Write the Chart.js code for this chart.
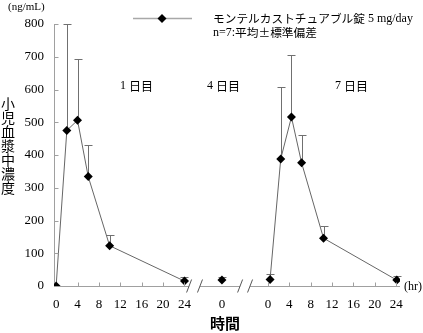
<!DOCTYPE html>
<html>
<head>
<meta charset="utf-8">
<script src="https://cdn.jsdelivr.net/npm/chart.js@4"></script>
<style>
html,body{margin:0;padding:0;background:#fff;}
#wrap{width:423px;height:333px;position:relative;}
</style>
</head>
<body>
<div id="wrap"><canvas id="c"></canvas></div>
<script>
// ---- data ----
const day1Hours = [0, 2, 4, 6, 10, 24];
const day1Mean  = [0, 475, 506, 334, 123, 15];
const day1SD    = [0, 325, 186, 96, 33, 12];

const day4Hours = [0];
const day4Mean  = [18];
const day4SD    = [10];

const day7Hours = [0.4, 2.4, 4.4, 6.3, 10.4, 24.1];
const day7Mean  = [20, 388, 516, 376, 146, 18];
const day7SD    = [16, 219, 189, 84, 36, 12];

const hourTickLabels = [0, 4, 8, 12, 16, 20, 24];
const yTickValues = [0, 100, 200, 300, 400, 500, 600, 700, 800];
const dayLabels = ['1 日目', '4 日目', '7 日目'];
const legendLine1 = 'モンテルカストチュアブル錠 5 mg/day';
const legendLine2 = 'n=7:平均±標準偏差';
const yTitle = '小児血漿中濃度';
const yUnit = '(ng/mL)';
const xTitle = '時間';
const xUnit = '(hr)';

// ---- layout: where each day segment starts on the shared x scale ----
const SEG = {day1: 0, day4: 31, day7: 39.6};
const BREAKS = [24.86, 26.9, 34.4, 36.26];

const toPts = (hours, vals, off) => hours.map((h, i) => ({x: off + h, y: vals[i]}));

const SERIF = '"Liberation Serif", "Noto Sans CJK JP", serif';
const CJK = '"Noto Sans CJK JP", "Liberation Serif", sans-serif';

const xTicks = [];
hourTickLabels.forEach(h => xTicks.push({value: SEG.day1 + h, label: String(h)}));
day4Hours.forEach(h => xTicks.push({value: SEG.day4 + h, label: String(h)}));
hourTickLabels.forEach(h => xTicks.push({value: SEG.day7 + h, label: String(h)}));

// draw mixed CJK / latin text with separate fonts
function mixedText(ctx, text, x, y, cjkSize, latSize) {
  const re = /[\u3000-\u9fff\uff00-\uffef±]/;
  let runs = [];
  for (const ch of text) {
    const isC = re.test(ch);
    if (runs.length && runs[runs.length - 1].c === isC) runs[runs.length - 1].t += ch;
    else runs.push({c: isC, t: ch});
  }
  ctx.textAlign = 'left';
  let cx = x;
  runs.forEach(r => {
    ctx.font = r.c ? (cjkSize + 'px ' + CJK) : (latSize + 'px ' + SERIF);
    ctx.fillText(r.t, cx, y);
    cx += ctx.measureText(r.t).width;
  });
}

const dsCommon = {
  showLine: true,
  borderColor: '#666',
  borderWidth: 1,
  pointStyle: 'rectRot',
  pointRadius: 4.5,
  pointBackgroundColor: '#000',
  pointBorderColor: '#000',
  pointBorderWidth: 0,
  tension: 0
};

const errPlugin = {
  id: 'extras',
  beforeDatasetsDraw(chart) {
    const ctx = chart.ctx, xs = chart.scales.x, ys = chart.scales.y;
    const sets = [
      [day1Hours, day1Mean, day1SD, SEG.day1],
      [day4Hours, day4Mean, day4SD, SEG.day4],
      [day7Hours, day7Mean, day7SD, SEG.day7]
    ];
    ctx.save();
    ctx.strokeStyle = '#707070';
    ctx.lineWidth = 1;
    sets.forEach(([h, m, s, off]) => {
      h.forEach((t, i) => {
        if (!s[i]) return;
        const px = Math.round(xs.getPixelForValue(off + t)) + 0.5;
        const py0 = ys.getPixelForValue(m[i]);
        const py1 = Math.round(ys.getPixelForValue(m[i] + s[i])) + 0.5;
        ctx.beginPath();
        ctx.moveTo(px, py0); ctx.lineTo(px, py1);
        ctx.moveTo(px - 4, py1); ctx.lineTo(px + 4, py1);
        ctx.stroke();
      });
    });
    ctx.restore();
  },
  afterDraw(chart) {
    const ctx = chart.ctx, xs = chart.scales.x, ys = chart.scales.y;
    const area = chart.chartArea;
    const axisY = Math.round(ys.getPixelForValue(0)) + 0.5;
    const axisX = Math.round(area.left) + 0.5;
    ctx.save();
    // y axis inner ticks
    ctx.strokeStyle = '#a0a0a0';
    ctx.lineWidth = 1;
    yTickValues.forEach(v => {
      const py = Math.round(ys.getPixelForValue(v)) + 0.5;
      ctx.beginPath(); ctx.moveTo(axisX, py); ctx.lineTo(axisX + 4, py); ctx.stroke();
    });
    // x axis with breaks
    const bx = BREAKS.map(b => xs.getPixelForValue(b));
    const segs = [[area.left, bx[0]], [bx[1], bx[2]], [bx[3], area.right]];
    ctx.beginPath();
    segs.forEach(([a, b]) => { ctx.moveTo(a, axisY); ctx.lineTo(b, axisY); });
    ctx.stroke();
    // x inner ticks
    ctx.beginPath();
    hourTickLabels.forEach(h => {
      [SEG.day1, SEG.day7].forEach(off => {
        if (off === SEG.day1 && h === 0) return;
        const px = Math.round(xs.getPixelForValue(off + h)) + 0.5;
        ctx.moveTo(px, axisY); ctx.lineTo(px, axisY - 4);
      });
    });
    ctx.stroke();
    // break marks
    ctx.strokeStyle = '#555';
    ctx.beginPath();
    bx.forEach(x => { ctx.moveTo(x - 2.5, axisY + 6); ctx.lineTo(x + 2.5, axisY - 7); });
    ctx.stroke();

    // texts
    ctx.fillStyle = '#000';
    ctx.textBaseline = 'middle';
    ctx.textAlign = 'left';
    ctx.font = '11px ' + SERIF;
    ctx.fillText(yUnit, 8, 7);
    ctx.font = '14px ' + CJK;
    ctx.textAlign = 'center';
    [...yTitle].forEach((ch, i) => ctx.fillText(ch, 8, 104 + i * 14));
    const dayX = [120, 207, 335];
    dayLabels.forEach((t, i) => mixedText(ctx, t, dayX[i], 86, 12, 12));
    ctx.font = '12px ' + SERIF;
    ctx.textAlign = 'left';
    ctx.fillText(xUnit, 404, 287);
    ctx.font = 'bold 15px ' + CJK;
    ctx.textAlign = 'center';
    ctx.fillText(xTitle, 225, 323);

    // legend
    ctx.strokeStyle = '#a8a8a8';
    ctx.lineWidth = 1.5;
    ctx.beginPath(); ctx.moveTo(133, 18.5); ctx.lineTo(192, 18.5); ctx.stroke();
    ctx.fillStyle = '#000';
    ctx.beginPath();
    ctx.moveTo(162, 14); ctx.lineTo(166.5, 18.5); ctx.lineTo(162, 23); ctx.lineTo(157.5, 18.5);
    ctx.closePath(); ctx.fill();
    mixedText(ctx, legendLine1, 213, 19, 11.7, 12);
    mixedText(ctx, legendLine2, 213, 33, 11.7, 12);
    ctx.restore();
  }
};

new Chart(document.getElementById('c'), {
  type: 'scatter',
  data: {
    datasets: [
      Object.assign({label: 'day1', data: toPts(day1Hours, day1Mean, SEG.day1)}, dsCommon),
      Object.assign({label: 'day4', data: toPts(day4Hours, day4Mean, SEG.day4)}, dsCommon, {showLine: false}),
      Object.assign({label: 'day7', data: toPts(day7Hours, day7Mean, SEG.day7)}, dsCommon)
    ]
  },
  options: {
    responsive: true,
    maintainAspectRatio: false,
    animation: false,
    layout: {padding: {top: 24, right: 23, left: 0, bottom: 0}},
    plugins: {legend: {display: false}, tooltip: {enabled: false}},
    scales: {
      x: {
        type: 'linear',
        min: -0.4,
        max: 64.3,
        border: {display: false},
        grid: {display: false, drawTicks: false},
        afterBuildTicks(scale) { scale.ticks = xTicks.map(t => ({value: t.value})); },
        afterFit(scale) { scale.height = 47; },
        ticks: {
          autoSkip: false,
          maxRotation: 0,
          padding: 11,
          color: '#000',
          font: {family: SERIF, size: 13},
          callback(value) {
            const t = xTicks.find(k => Math.abs(k.value - value) < 1e-6);
            return t ? t.label : '';
          }
        }
      },
      y: {
        min: 0,
        max: 800,
        border: {display: true, color: '#a0a0a0', width: 1},
        grid: {display: false, drawTicks: false},
        afterFit(scale) { scale.width = 54; },
        ticks: {
          stepSize: 100,
          padding: 10,
          color: '#000',
          font: {family: SERIF, size: 13}
        }
      }
    }
  },
  plugins: [errPlugin]
});
</script>
</body>
</html>
